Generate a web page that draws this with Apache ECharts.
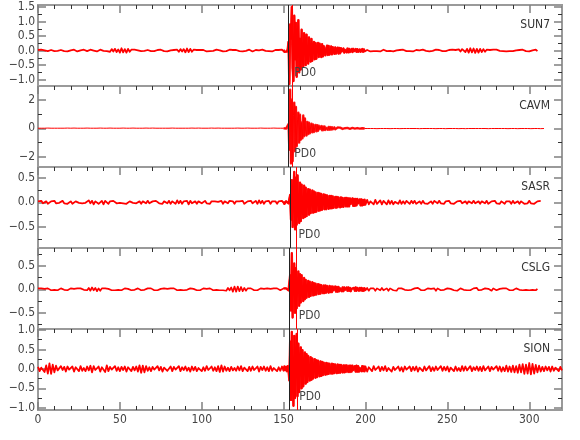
<!DOCTYPE html>
<html><head><meta charset="utf-8">
<script src="https://cdn.jsdelivr.net/npm/echarts@6/dist/echarts.min.js"></script>
<style>html,body{margin:0;padding:0;background:#fff}#c{width:580px;height:440px}</style>
</head><body><div id="c"></div><script>
// ---- data (amplitudes in hundredths) ----
const stations = ['SUN7','CAVM','SASR','CSLG','SION'];
const pickLabel = 'PD0';
const blackT = [153.1,153.0,153.8,153.5,153.5];
const redT = [155.3,155.3,157.9,158.0,158.3];
const yMin = [-1.22,-2.7,-0.93,-0.845,-1.06];
const yMax = [1.57,2.96,0.72,0.88,1.026];
const yMajor = [[-1,-0.5,0,0.5,1,1.5],[-2,0,2],[-0.5,0,0.5],[-0.5,0,0.5],[-1,-0.5,0,0.5,1]];
const yMinorT = [[-0.75,-0.25,0.25,0.75,1.25],[-1,1],[-0.75,-0.25,0.25],[-0.75,-0.25,0.25,0.75],[-0.75,-0.25,0.25,0.75]];
const yDecimals = [1,0,1,1,1];
const xMajor = [0,50,100,150,200,250,300];
const xTickLabels = ['0','50','100','150','200','250','300'];
const xMinorT = [10,20,30,40,60,70,80,90,110,120,130,140,160,170,180,190,210,220,230,240,260,270,280,290,310];

// pre: t=0..149 (1 s), burst: t=150..199.5 (0.5 s), post: t=200.. (1 s)
const sun7Pre = [
2,-1,3,-3,1,2,-2,-3,2,1, -2,3,-1,-3,2,3,-2,0,-3,2, 1,-2,3,-1,-3,2,1,-2,3,-1,
-2,2,3,-3,0,2,-3,1,3,-2, -1,3,-2,2,-4,5,-3,6,-5,4, -7,8,-6,5,-7,6,-4,3,-2,3,
-3,1,2,-2,3,-1,-3,2,1,-2, 3,-2,0,2,-3,3,-1,-2,2,-3, 2,1,-3,2,-2,3,-4,5,-3,5,
-6,7,-5,6,-4,3,-3,2,-1,2, -3,2,1,-3,2,-2,3,-1,-2,3, -2,1,2,-3,3,-2,-1,3,-2,2,
-3,2,1,-2,3,-3,2,-1,-2,3, 1,-3,2,2,-3,1,-2,3,-2,-1, 3,-2,2,-3,1,2,-3,2,-2,3];
const sun7Burst = [
3,-4,2,1,-3,4,30,-115,90,40, 150,-60,-105,120,-30,95,-90,60,105,-75,
40,-65,72,-20,-55,60,35,-50,55,-25, -45,45,10,-38,40,-35,20,30,-30,26,
-28,12,26,-22,24,-8,-22,22,-20,15, 19,-16,5,17,-15,16,-14,-6,14,-13,
12,-4,-11,11,-10,3,10,-10,9,-9, 8,-3,-8,7,-7,2,7,-6,7,-6,
6,-5,1,5,-5,6,-2,-5,5,-4, 5,-4,2,4,-4,-1,5,-4,4,-3];
const sun7Post = [
-3,2,3,-3,1,-2,3,-2,2,-3, 1,3,-2,-2,3,-1,2,-3,2,1, -3,2,-2,3,-1,-2,3,-2,1,-3,
2,2,-3,1,-2,3,-2,-1,2,-3, 3,-1,-2,3,-3,2,1,-2,3,-2, -1,2,-3,3,-2,2,-4,4,-3,5,
4,-5,6,-7,8,-6,7,-8,6,-7, 6,-5,5,-4,3,-3,2,-2,3,-2, 3,-2,-1,3,-2,2,-3,1,-2,3,
-2,2,1,-3,2,-2,3,-1,-2,2, -3,2,1,-2,3,-2];

const cavmPre = [
1,-1,1,-2,1,-1,2,-1,1,-1, 1,-2,1,-1,1,-1,1,-2,2,-1, 1,-1,2,-1,1,-2,1,-1,1,-1,
2,-1,1,-1,1,-2,1,-1,2,-1, 1,-2,1,-1,2,-1,1,-1,1,-2, 1,-1,2,-2,1,-1,1,-1,2,-1,
1,-1,1,-2,1,-1,2,-1,1,-1, 2,-1,1,-1,1,-2,1,-1,1,-2, 1,-1,2,-1,1,-1,1,-2,1,-1,
1,-2,1,-1,2,-1,1,-1,2,-1, 1,-1,1,-2,1,-1,2,-1,1,-2, 2,-1,1,-1,1,-2,1,-1,1,-1,
1,-1,2,-1,1,-1,1,-2,2,-1, 1,-2,1,-1,1,-1,2,-1,1,-1, 1,-1,1,-2,2,-1,1,-1,1,-2];
const cavmBurst = [
1,-1,1,-2,1,-1,30,-150,270,-245, 200,-230,90,180,-160,150,-125,60,110,-100,
95,-80,40,-70,90,-55,70,-20,-50,45, -40,40,-35,10,32,-28,28,-25,5,24,
-20,22,-18,18,-5,-16,16,-14,14,-12, 13,-11,4,11,-10,10,-9,9,-8,8,
-7,3,7,-7,6,-6,6,-5,2,5, -5,5,-4,4,-4,1,4,-3,3,-3,
3,-3,2,-2,3,-2,2,-2,2,-1, 2,-2,1,-2,2,-1,1,-2,1,-1];
const cavmPost = [
1,-1,2,-1,1,-1,1,-2,1,-1, 2,-1,1,-1,1,-2,1,-1,2,-1, 1,-2,1,-1,1,-1,2,-1,1,-1,
1,-1,2,-2,1,-1,1,-1,2,-1, 1,-1,1,-2,1,-1,2,-1,1,-2, 2,-1,1,-1,1,-1,1,-2,1,-1,
1,-2,1,-1,2,-1,1,-1,1,-1, 1,-1,2,-1,1,-2,1,-1,1,-1, 2,-1,1,-1,1,-1,2,-2,1,-1,
1,-1,1,-2,1,-1,2,-1,1,-1, 1,-2,1,-1,1,-1,1,-2,2,-1];

const sasrPre = [
2,-1,3,-2,-1,2,-3,1,2,-2, 3,-2,1,-1,-2,3,-2,2,-3,1, 2,-3,1,2,-2,-1,3,-2,2,-1,
-3,4,-2,3,-4,2,4,-3,-2,3, -4,3,1,-3,2,-2,3,-1,-2,2, -1,3,-2,2,-3,1,2,-2,-1,3,
-2,1,2,-3,2,-1,-2,3,-2,1, 2,-2,3,-1,-2,2,-3,2,1,-2, 3,-3,2,-1,-3,4,-2,3,-3,2,
-2,3,-4,3,-2,1,2,-3,2,-1, -2,2,3,-2,1,-3,2,-1,2,-2, 1,-2,3,-3,2,-1,-2,3,-1,2,
-3,2,-1,2,-2,3,-3,1,2,-2, 3,-2,-2,3,-3,4,-2,3,-3,2, -2,3,-3,2,-1,2,-3,2,-2,3];
const sasrBurst = [
2,-3,1,2,-2,3,-2,2,15,-35, 45,-50,20,62,-55,50,-45,55,-20,-42,
40,-38,36,-15,-32,34,-30,30,-28,10, 27,-25,26,-22,8,24,-21,22,-20,20,
-19,6,19,-17,18,-16,17,-15,5,16, -14,15,-14,14,-4,-13,13,-12,13,-12,
12,-11,4,11,-11,11,-10,10,-3,-10, 10,-9,9,-9,3,9,-8,9,-8,8,
-8,8,-3,-7,8,-7,7,-7,7,-6, 7,-2,-6,6,-6,6,-6,5,-5,6];
const sasrPost = [
-5,5,-4,2,4,-4,5,-3,-4,4, -4,3,2,-4,4,-3,3,-4,1,3, -3,4,-3,2,-3,3,-1,-3,3,-2,
3,-3,1,2,-3,3,-2,2,-3,1, 2,-3,3,-1,-2,3,-2,2,-3,2, -1,3,-2,2,-3,1,2,-2,3,-2,
-2,2,-3,2,1,-2,3,-2,-1,2, -3,2,2,-2,3,-3,1,2,-2,3, -2,1,-3,2,2,-3,2,-1,2,-3,
3,-2,-1,2,-3,2,2,-3,1,-2, 3,-2,2,-3,1,2,-2,3];

const cslgPre = [
2,-1,2,-2,1,-2,2,1,-2,2, -1,2,-2,1,2,-2,-1,2,-2,1, 2,-2,1,-1,2,-2,2,-1,-1,2,
-2,3,-3,4,-2,3,-4,2,-3,2, -1,2,-2,1,2,-2,1,-2,2,-1, 2,-2,-1,2,-2,1,2,-2,1,-1,
-2,2,1,-2,2,-1,-2,2,-1,2, 1,-2,2,-2,1,1,-2,2,-2,1, -1,2,-2,2,-1,-2,2,-1,2,-2,
2,-1,-2,2,-2,1,2,-2,1,-2, 1,2,-2,1,-2,2,-1,-2,2,-1, 2,-2,1,-2,2,-3,3,-2,4,-5,
6,-5,6,-4,5,-4,3,-3,2,-2, 2,-1,-2,2,-2,1,2,-2,1,-2, 2,-2,1,-1,2,-2,2,-1,-2,2];
const cslgBurst = [
2,-2,1,2,-2,1,-2,2,30,-45, 77,-60,25,55,-50,45,-40,15,38,-35,
32,-28,30,-10,-25,24,-21,20,-18,6, 18,-16,16,-14,5,15,-13,13,-12,12,
-11,4,11,-10,10,-9,9,-3,-8,8, -8,8,-7,7,-2,-7,7,-6,6,-6,
6,-2,-5,6,-5,5,-5,5,-4,2, 5,-4,4,-4,4,-1,-4,4,-3,4,
-3,3,-4,1,4,-3,3,-3,4,-3, 3,-1,-3,3,-2,3,-3,2,-3,3];
const cslgPost = [
-2,3,-3,2,-1,2,-3,2,1,-2, 3,-2,-1,2,-3,2,1,-2,2,-3, 2,-1,2,-2,-1,3,-2,2,-1,-2,
2,-2,3,-1,-2,2,-2,1,2,-2, 1,-2,2,-3,2,1,-2,2,-1,-2, 2,-2,1,2,-2,2,-3,1,2,-2,
-1,2,-2,2,-2,-1,2,-2,3,-2, 2,-1,-2,2,-2,1,2,-3,2,-1, -2,2,1,-2,2,-2,2,-1,-2,2,
-2,1,2,-2,-1,2,-2,2,-1,2, -2,2,-1,2,-2,1];

const sionPre = [
5,-6,3,7,-8,9,-12,14,-13,11, -9,8,-4,-6,7,-3,5,-7,6,-2, -5,6,-7,4,3,-6,7,-5,2,-6,
6,-4,8,-9,7,-3,-5,6,-7,4, 3,-8,9,-6,5,-2,-6,7,-5,4, -6,5,-3,6,-7,4,2,-6,5,-4,
6,-7,9,-10,8,-9,7,-5,4,-6, 5,-2,-6,7,-4,5,-7,3,6,-5, -3,6,-6,5,-2,-5,7,-6,4,-3,
6,-5,3,-7,6,-4,5,-6,2,5, -6,4,-5,7,-3,-4,6,-5,4,-6, 7,-8,9,-7,6,-5,3,-6,5,-4,
2,-5,6,-4,7,-6,3,4,-6,5, -5,6,-3,-4,6,-7,5,-3,6,-5, 4,-6,7,-5,2,5,-6,4,-5,6];
const sionBurst = [
-5,6,-3,5,-6,7,-4,-30,70,-80, 95,-40,-95,85,-75,30,90,-70,65,-60,
25,55,-50,48,-45,15,42,-38,38,-34, 33,-12,-30,30,-28,27,-25,8,25,-23,
22,-21,21,-6,-19,19,-18,18,-16,16, -5,-15,15,-14,14,-13,13,-4,-12,13,
-12,12,-11,11,-3,-11,11,-10,10,-10, 10,-3,-9,9,-9,9,-8,9,-2,-8,
8,-8,8,-7,8,-3,-7,7,-7,8, -7,7,-7,2,7,-6,7,-6,6,-7];
const sionPost = [
6,-7,4,5,-6,7,-3,-5,6,-6, 5,-4,7,-6,2,6,-7,5,-3,-5, 6,-5,4,-7,6,-2,-5,6,-6,5,
-4,6,-7,3,5,-6,6,-4,-5,7, -6,4,-5,6,-3,-6,7,-5,5,-4, 6,-7,3,5,-6,6,-5,2,-6,7,
-5,6,-4,-5,7,-6,4,-3,6,-5, 5,-6,7,-4,-5,6,-6,5,-2,-6, 7,-5,6,-7,4,-6,8,-7,6,-8,
8,-9,7,-10,11,-9,12,-13,11,-12, 15,-14,13,-12,10,-9,8,-7,5,-6, 6,-4,5,-7,6,-5,3,6,-6,5,-4];

const traces = [
  [sun7Pre, sun7Burst, sun7Post],
  [cavmPre, cavmBurst, cavmPost],
  [sasrPre, sasrBurst, sasrPost],
  [cslgPre, cslgBurst, cslgPost],
  [sionPre, sionBurst, sionPost]
];

function build(parts) {
  const d = [];
  parts[0].forEach((v, i) => d.push([i, v / 100]));
  parts[1].forEach((v, i) => d.push([150 + i * 0.5, v / 100]));
  parts[2].forEach((v, i) => d.push([200 + i, v / 100]));
  return d;
}
function buildBurst(parts) {
  return parts[1].map((v, i) => [150 + i * 0.5, v / 100]);
}

// ---- layout / style ----
const FONT = '"Liberation Sans Narrow","DejaVu Sans Condensed",sans-serif';
const gridTop = [5, 86, 167, 248, 329];
const gridH = 81;
const traceWidth = [1.8, 1.0, 1.8, 1.7, 1.8];
const grids = [], xAxes = [], yAxes = [], series = [], graphics = [];
const majorTick = (vals, show) => ({show: show, inside: true, length: 8, customValues: vals, lineStyle: {color: '#808080', width: 1.5}});
const minorTick = (vals, show) => ({show: show, inside: true, length: 4, customValues: vals, lineStyle: {color: '#333', width: 1}});

for (let i = 0; i < 5; i++) {
  grids.push({left: 38, right: 18, top: gridTop[i], height: gridH, show: true,
    borderColor: '#9a9a9a', borderWidth: 2, backgroundColor: 'transparent'});
  const xb = {type: 'value', gridIndex: i, min: 0, max: 320, splitLine: {show: false},
    axisLine: {show: false, onZero: false}};
  const last = i === 4;
  xAxes.push(Object.assign({}, xb, {position: 'bottom', axisTick: majorTick(xMajor, last),
    axisLabel: {show: last, customValues: xMajor, margin: 4, color: '#444', fontSize: 12, fontFamily: FONT,
      formatter: v => xTickLabels[xMajor.indexOf(v)]}}));
  xAxes.push(Object.assign({}, xb, {position: 'bottom', axisTick: minorTick(xMinorT, last), axisLabel: {show: false}}));
  xAxes.push(Object.assign({}, xb, {position: 'top', axisTick: majorTick(xMajor, true), axisLabel: {show: false}}));
  xAxes.push(Object.assign({}, xb, {position: 'top', axisTick: minorTick(xMinorT, true), axisLabel: {show: false}}));

  const yb = {type: 'value', gridIndex: i, min: yMin[i], max: yMax[i], splitLine: {show: false},
    axisLine: {show: false, onZero: false}};
  const dec = yDecimals[i];
  yAxes.push(Object.assign({}, yb, {position: 'left', axisTick: majorTick(yMajor[i], true),
    axisLabel: {show: true, customValues: yMajor[i], margin: 3, color: '#444', fontSize: 12, fontFamily: FONT,
      formatter: v => (v < 0 ? '\u2212' : '') + Math.abs(v).toFixed(dec)}}));
  yAxes.push(Object.assign({}, yb, {position: 'left', axisTick: minorTick(yMinorT[i], true), axisLabel: {show: false}}));
  yAxes.push(Object.assign({}, yb, {position: 'right', axisTick: majorTick(yMajor[i], true), axisLabel: {show: false}}));
  yAxes.push(Object.assign({}, yb, {position: 'right', axisTick: minorTick(yMinorT[i], true), axisLabel: {show: false}}));

  const pdY = yMin[i] + (13 / gridH) * (yMax[i] - yMin[i]);
  series.push({
    type: 'line', xAxisIndex: 4 * i, yAxisIndex: 4 * i, data: build(traces[i]),
    showSymbol: false, symbol: 'none', silent: true,
    lineStyle: {color: '#ff0000', width: traceWidth[i], join: 'round'}, z: 3,
    markLine: {silent: true, symbol: ['none', 'none'], label: {show: false}, animation: false,
      data: [
        {xAxis: blackT[i], lineStyle: {color: '#222', width: 1, type: 'solid'}},
        {xAxis: redT[i], lineStyle: {color: '#ff0000', width: 1, type: 'solid'}}
      ]},
    markPoint: {silent: true, animation: false, symbol: 'circle', symbolSize: 0,
      data: [{coord: [redT[i], pdY], label: {show: true, formatter: pickLabel, position: 'right', distance: 2,
        color: '#444', fontSize: 12, fontFamily: FONT}}]}
  });
  series.push({
    type: 'line', xAxisIndex: 4 * i, yAxisIndex: 4 * i, data: buildBurst(traces[i]),
    showSymbol: false, symbol: 'none', silent: true,
    lineStyle: {color: '#ff2020', width: 2.4, join: 'round'}, z: 2
  });
  graphics.push({type: 'text', right: 30, top: gridTop[i] + 14, silent: true,
    style: {text: stations[i], fill: '#333', fontSize: 12, fontFamily: FONT}});
}

const chart = echarts.init(document.getElementById('c'), null, {renderer: 'canvas'});
chart.setOption({
  animation: false,
  backgroundColor: '#fff',
  grid: grids, xAxis: xAxes, yAxis: yAxes, series: series, graphic: graphics
});
</script></body></html>
